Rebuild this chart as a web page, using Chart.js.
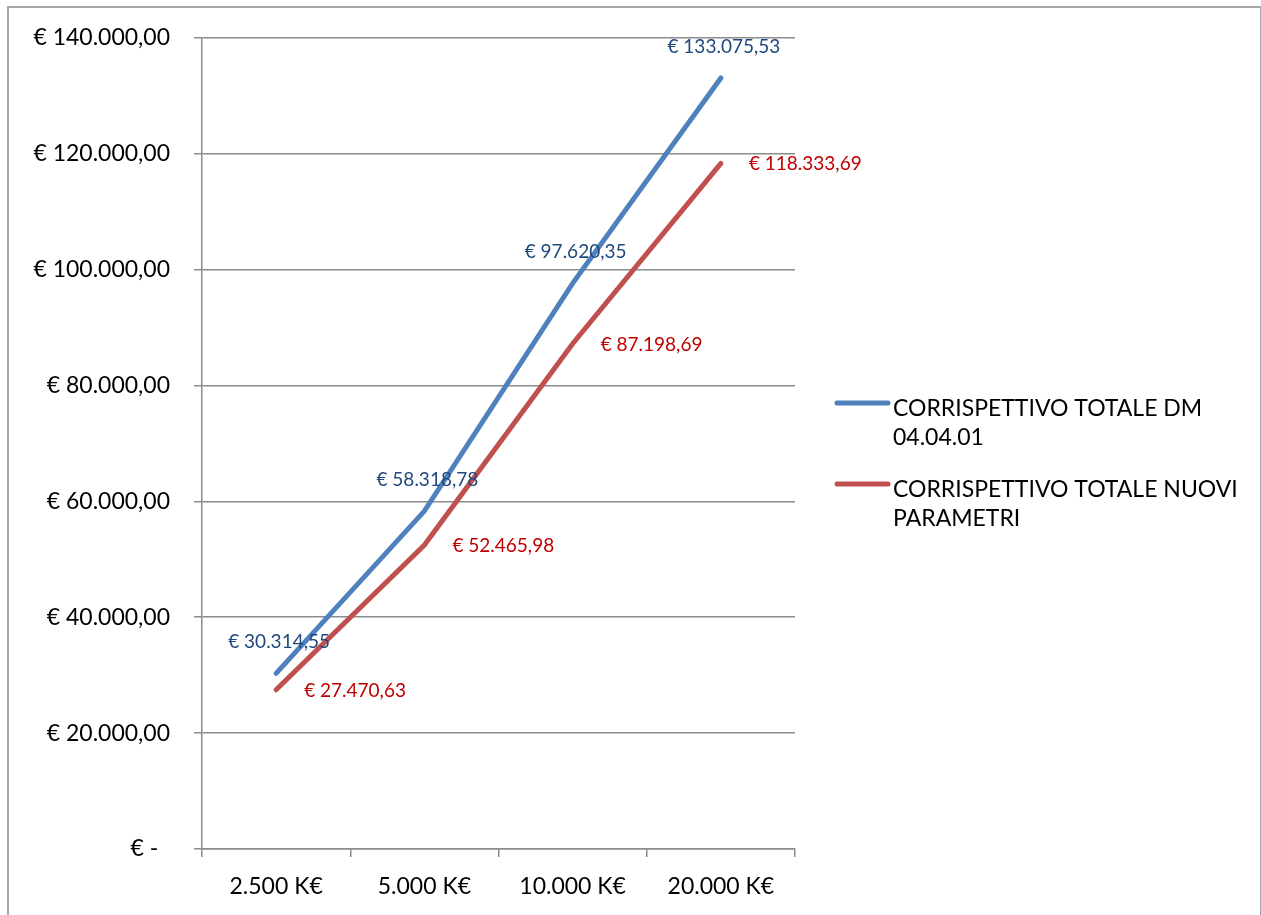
<!DOCTYPE html>
<html lang="it">
  <head>
    <meta charset="UTF-8" />
    <title>Corrispettivo totale</title>
    <script src="https://cdn.jsdelivr.net/npm/chart.js@4.4.1/dist/chart.umd.min.js"></script>
    <style>
      html,
      body {
        margin: 0;
        padding: 0;
        background: #fff;
        overflow: hidden;
      }
      #frame {
        position: absolute;
        left: 7px;
        top: 6px;
        width: 1251px;
        height: 1000px;
        border: 2px solid #a6a6a6;
      }
      #chart {
        position: absolute;
        left: 0;
        top: 0;
      }
    </style>
  </head>
  <body>
    <div id="frame"></div>
    <canvas id="chart" width="1261" height="915"></canvas>
    <script>
      const categories = ["2.500 K€", "5.000 K€", "10.000 K€", "20.000 K€"];
      const dmValues = [30314.55, 58318.78, 97620.35, 133075.53];
      const nuoviValues = [27470.63, 52465.98, 87198.69, 118333.69];
      const legendDm = ["CORRISPETTIVO TOTALE DM", "04.04.01"];
      const legendNuovi = ["CORRISPETTIVO TOTALE NUOVI", "PARAMETRI"];

      const font = "Lato, 'Open Sans', sans-serif";

      // formato contabile italiano: € 1.234,56
      function euro(v) {
        if (v === 0) return "€ -  ";
        const [int, dec] = v.toFixed(2).split(".");
        return "€ " + int.replace(/\B(?=(\d{3})+(?!\d))/g, ".") + "," + dec;
      }

      // etichette dei valori sui punti
      const valueLabels = {
        id: "valueLabels",
        afterDatasetsDraw(chart) {
          const ctx = chart.ctx;
          ctx.save();
          ctx.font = "19px " + font;
          chart.data.datasets.forEach((ds, i) => {
            const meta = chart.getDatasetMeta(i);
            meta.data.forEach((pt, j) => {
              const txt = euro(ds.data[j]);
              ctx.fillStyle = ds.labelColor;
              ctx.textBaseline = "middle";
              if (ds.labelPos === "top") {
                ctx.textAlign = "center";
                ctx.fillText(txt, pt.x + 3, pt.y - 31);
              } else {
                ctx.textAlign = "left";
                ctx.fillText(txt, pt.x + 28, pt.y + 1);
              }
            });
          });
          ctx.restore();
        },
      };

      // legenda a destra con testo su due righe
      const sideLegend = {
        id: "sideLegend",
        afterDraw(chart) {
          const ctx = chart.ctx;
          const x0 = chart.chartArea.right + 40;
          let y = 409;
          ctx.save();
          ctx.font = "23px " + font;
          ctx.textAlign = "left";
          ctx.textBaseline = "middle";
          chart.data.datasets.forEach((ds) => {
            ctx.strokeStyle = ds.borderColor;
            ctx.lineWidth = 5;
            ctx.lineCap = "round";
            ctx.beginPath();
            ctx.moveTo(x0 + 2, y - 6);
            ctx.lineTo(x0 + 53, y - 6);
            ctx.stroke();
            ctx.fillStyle = "#000";
            ds.legendLines.forEach((line, k) => {
              ctx.fillText(line, x0 + 58, y + k * 29);
            });
            y += 81;
          });
          ctx.restore();
        },
      };

      const gridColor = "#8c8c8c";

      new Chart(document.getElementById("chart"), {
        type: "line",
        data: {
          labels: categories,
          datasets: [
            {
              label: legendDm.join(" "),
              legendLines: legendDm,
              data: dmValues,
              borderColor: "#4f81bd",
              backgroundColor: "#4f81bd",
              labelColor: "#1f497d",
              labelPos: "top",
              borderWidth: 5,
              borderCapStyle: "round",
              pointRadius: 0,
              tension: 0,
            },
            {
              label: legendNuovi.join(" "),
              legendLines: legendNuovi,
              data: nuoviValues,
              borderColor: "#c0504d",
              backgroundColor: "#c0504d",
              labelColor: "#c00000",
              labelPos: "right",
              borderWidth: 5,
              borderCapStyle: "round",
              pointRadius: 0,
              tension: 0,
            },
          ],
        },
        options: {
          responsive: false,
          animation: false,
          layout: {
            padding: { left: 0, top: 35, right: 466, bottom: 0 },
          },
          plugins: {
            legend: { display: false },
            tooltip: { enabled: false },
          },
          scales: {
            x: {
              offset: true,
              grid: {
                offset: true,
                drawOnChartArea: false,
                drawTicks: true,
                tickLength: 8,
                tickColor: gridColor,
                lineWidth: 1.5,
              },
              border: { color: gridColor, width: 1.5 },
              ticks: {
                color: "#000",
                font: { family: font, size: 23 },
                padding: 16,
                maxRotation: 0,
              },
              afterFit(scale) {
                scale.height = 66;
              },
            },
            y: {
              min: 0,
              max: 140000,
              grid: {
                color: gridColor,
                lineWidth: 1.5,
                drawTicks: true,
                tickLength: 8,
                tickColor: gridColor,
              },
              border: { color: gridColor, width: 1.5 },
              ticks: {
                stepSize: 20000,
                color: "#000",
                font: { family: font, size: 23 },
                padding: 24,
                callback: (v) => euro(v),
              },
              afterFit(scale) {
                scale.width = 202;
              },
            },
          },
        },
        plugins: [valueLabels, sideLegend],
      });
    </script>
  </body>
</html>
